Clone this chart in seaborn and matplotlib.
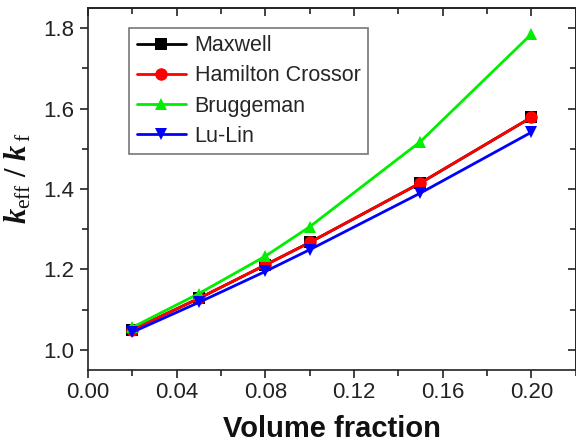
import pandas as pd
import matplotlib
matplotlib.use('Agg')
import matplotlib.pyplot as plt
from matplotlib.ticker import MultipleLocator, FormatStrFormatter
import seaborn as sns

# values
volume_fraction = [0.02, 0.05, 0.08, 0.10, 0.15, 0.20]
maxwell = [1.050, 1.128, 1.211, 1.267, 1.415, 1.578]
hamilton_crossor = [1.050, 1.128, 1.211, 1.267, 1.415, 1.578]
bruggeman = [1.056, 1.140, 1.233, 1.306, 1.518, 1.785]
lu_lin = [1.044, 1.118, 1.195, 1.249, 1.390, 1.541]

models = ['Maxwell', 'Hamilton Crossor', 'Bruggeman', 'Lu-Lin']
series = [maxwell, hamilton_crossor, bruggeman, lu_lin]

df = pd.DataFrame({
    'phi': volume_fraction * len(models),
    'k': sum(series, []),
    'model': [m for m in models for _ in volume_fraction],
})

colors = {'Maxwell': '#000000', 'Hamilton Crossor': '#ff0000',
          'Bruggeman': '#00ee00', 'Lu-Lin': '#0000ff'}
markers = {'Maxwell': 's', 'Hamilton Crossor': 'o',
           'Bruggeman': '^', 'Lu-Lin': 'v'}

sns.set_theme(style='ticks')
plt.rcParams['font.family'] = ['Liberation Sans', 'DejaVu Sans']
plt.rcParams['mathtext.fontset'] = 'custom'
plt.rcParams['mathtext.it'] = 'Liberation Serif:italic:bold'
plt.rcParams['mathtext.rm'] = 'Liberation Serif'
plt.rcParams['mathtext.bf'] = 'Liberation Serif:bold'

fig = plt.figure(figsize=(5.76, 4.44), dpi=100)
ax = fig.add_axes([0.1528, 0.1667, 0.8466, 0.8153])

sns.lineplot(data=df, x='phi', y='k', hue='model', style='model',
             hue_order=models, style_order=models, palette=colors,
             markers=markers, dashes=False, markersize=9, linewidth=2,
             markeredgewidth=0, ax=ax)

ax.set_xlim(0, 0.22)
ax.set_ylim(0.95, 1.85)
ax.xaxis.set_major_locator(MultipleLocator(0.04))
ax.xaxis.set_minor_locator(MultipleLocator(0.02))
ax.yaxis.set_major_locator(MultipleLocator(0.2))
ax.yaxis.set_minor_locator(MultipleLocator(0.1))
ax.xaxis.set_major_formatter(FormatStrFormatter('%.2f'))
ax.yaxis.set_major_formatter(FormatStrFormatter('%.1f'))

for side in ['left', 'right', 'top', 'bottom']:
    ax.spines[side].set_visible(True)
    ax.spines[side].set_linewidth(1.2)
    ax.spines[side].set_color('#222222')

ax.tick_params(which='both', direction='out', color='#222222', width=1.2,
               labelsize=16, labelcolor='#222222')
ax.tick_params(which='major', length=6)
ax.tick_params(which='minor', length=4)
ax.tick_params(axis='x', pad=3)
ax.tick_params(axis='y', pad=4)

# mirrored ticks on top and right, pointing inward
top = ax.secondary_xaxis('top')
top.xaxis.set_major_locator(MultipleLocator(0.04))
top.xaxis.set_minor_locator(MultipleLocator(0.02))
top.tick_params(which='both', direction='in', color='#222222', width=1.2,
                labeltop=False)
top.tick_params(which='major', length=6)
top.tick_params(which='minor', length=4)
right = ax.secondary_yaxis('right')
right.yaxis.set_major_locator(MultipleLocator(0.2))
right.yaxis.set_minor_locator(MultipleLocator(0.1))
right.tick_params(which='both', direction='in', color='#222222', width=1.2,
                  labelright=False)
right.tick_params(which='major', length=6)
right.tick_params(which='minor', length=4)

ax.set_xlabel('Volume fraction', fontsize=21, fontweight='bold', color='#111111')
ax.xaxis.set_label_coords(0.5, -0.125)
ax.set_ylabel(r'$k_{\mathrm{eff}}\ \mathbf{/}\ k_{\mathrm{\,f}}$', fontsize=22,
              color='#111111')
ax.yaxis.set_label_coords(-0.112, 0.53)

leg = ax.legend(loc='upper left', bbox_to_anchor=(0.084, 0.945), fontsize=15.5,
                frameon=True, fancybox=False, handlelength=2.3,
                labelspacing=0.42, handletextpad=0.4, borderpad=0.35,
                borderaxespad=0)
leg.get_frame().set_edgecolor('#555555')
leg.get_frame().set_linewidth(1.2)
for line in leg.get_lines():
    line.set_linewidth(2)

fig.savefig('out.png', dpi=100)
